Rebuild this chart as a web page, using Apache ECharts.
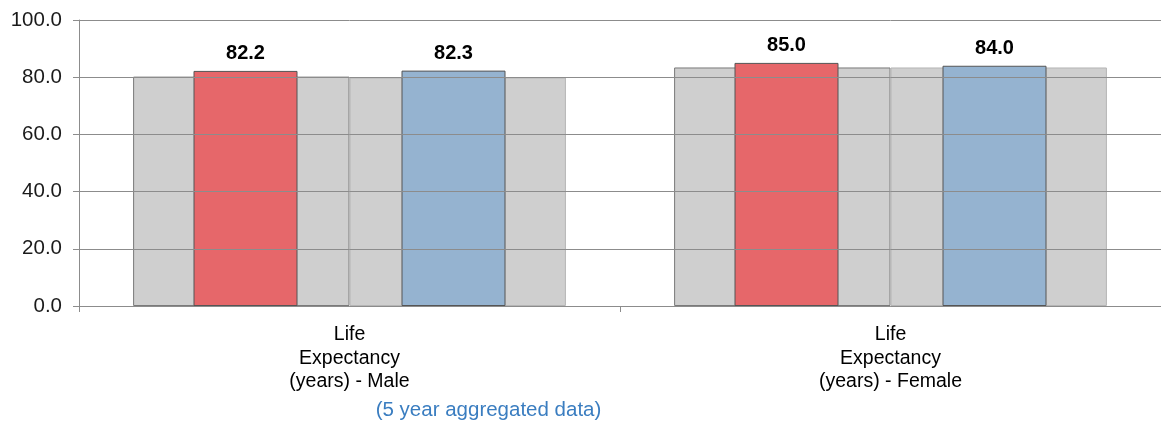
<!DOCTYPE html>
<html><head><meta charset="utf-8">
<script src="https://cdn.jsdelivr.net/npm/echarts@6/dist/echarts.min.js"></script>
<style>html,body{margin:0;padding:0;background:#fff}#c{width:1161px;height:425px}</style>
</head><body><div id="c"></div>
<script>
const categories = ['Life\nExpectancy\n(years) - Male', 'Life\nExpectancy\n(years) - Female'];
const comparatorA = [80.2, 83.4];
const comparatorB = [79.9, 83.4];
const localValues = [82.2, 85.0];
const regionValues = [82.3, 84.0];
const yTicks = { min: 0, max: 100, interval: 20 };
const subtitle = '(5 year aggregated data)';

const chart = echarts.init(document.getElementById('c'), null, { renderer: 'canvas' });
const FONT = '"Liberation Sans", Arial, sans-serif';
chart.setOption({
  animation: false,
  textStyle: { fontFamily: FONT },
  grid: { left: 79, right: -4, top: 20, bottom: 119 },
  title: {
    text: subtitle, left: 483.5, top: 395, textAlign: 'center',
    textStyle: { color: '#3a7dc0', fontSize: 20.5, fontWeight: 'normal', fontFamily: FONT }
  },
  xAxis: [
    {
      type: 'category', data: categories,
      axisLine: { lineStyle: { color: '#8c8c8c' } },
      axisTick: { show: true, length: 6, lineStyle: { color: '#8c8c8c' } },
      axisLabel: { color: '#000', fontSize: 19.5, lineHeight: 23.5, margin: 17, fontFamily: FONT }
    },
    { type: 'category', data: categories, show: false }
  ],
  yAxis: {
    type: 'value', min: yTicks.min, max: yTicks.max, interval: yTicks.interval, z: 5,
    axisLine: { show: true, lineStyle: { color: '#8c8c8c' } },
    axisTick: { show: true, length: 6, lineStyle: { color: '#8c8c8c' } },
    axisLabel: { color: '#1a1a1a', fontSize: 20.5, margin: 17, fontFamily: FONT, formatter: v => v.toFixed(1) },
    splitLine: { lineStyle: { color: '#8c8c8c', width: 1 } }
  },
  series: [
    { type: 'bar', xAxisIndex: 0, data: comparatorA, barGap: '0%', barCategoryGap: '20%', z: 1,
      itemStyle: { color: '#cfcfcf', borderColor: '#7a7a7a', borderWidth: 1 } },
    { type: 'bar', xAxisIndex: 0, data: comparatorB, z: 1,
      itemStyle: { color: '#cfcfcf', borderColor: '#b5b5b5', borderWidth: 1 } },
    { type: 'bar', xAxisIndex: 1, data: localValues, barWidth: 104, barGap: '100%', z: 3,
      itemStyle: { color: '#e6676a', borderColor: '#555', borderWidth: 1 },
      label: { show: true, position: 'top', distance: 7, color: '#000', fontSize: 20, fontWeight: 'bold', fontFamily: FONT, formatter: p => p.value.toFixed(1) } },
    { type: 'bar', xAxisIndex: 1, data: regionValues, barWidth: 104, z: 3,
      itemStyle: { color: '#95b3d0', borderColor: '#555', borderWidth: 1 },
      label: { show: true, position: 'top', distance: 7, color: '#000', fontSize: 20, fontWeight: 'bold', fontFamily: FONT, formatter: p => p.value.toFixed(1) } }
  ]
});
</script></body></html>
